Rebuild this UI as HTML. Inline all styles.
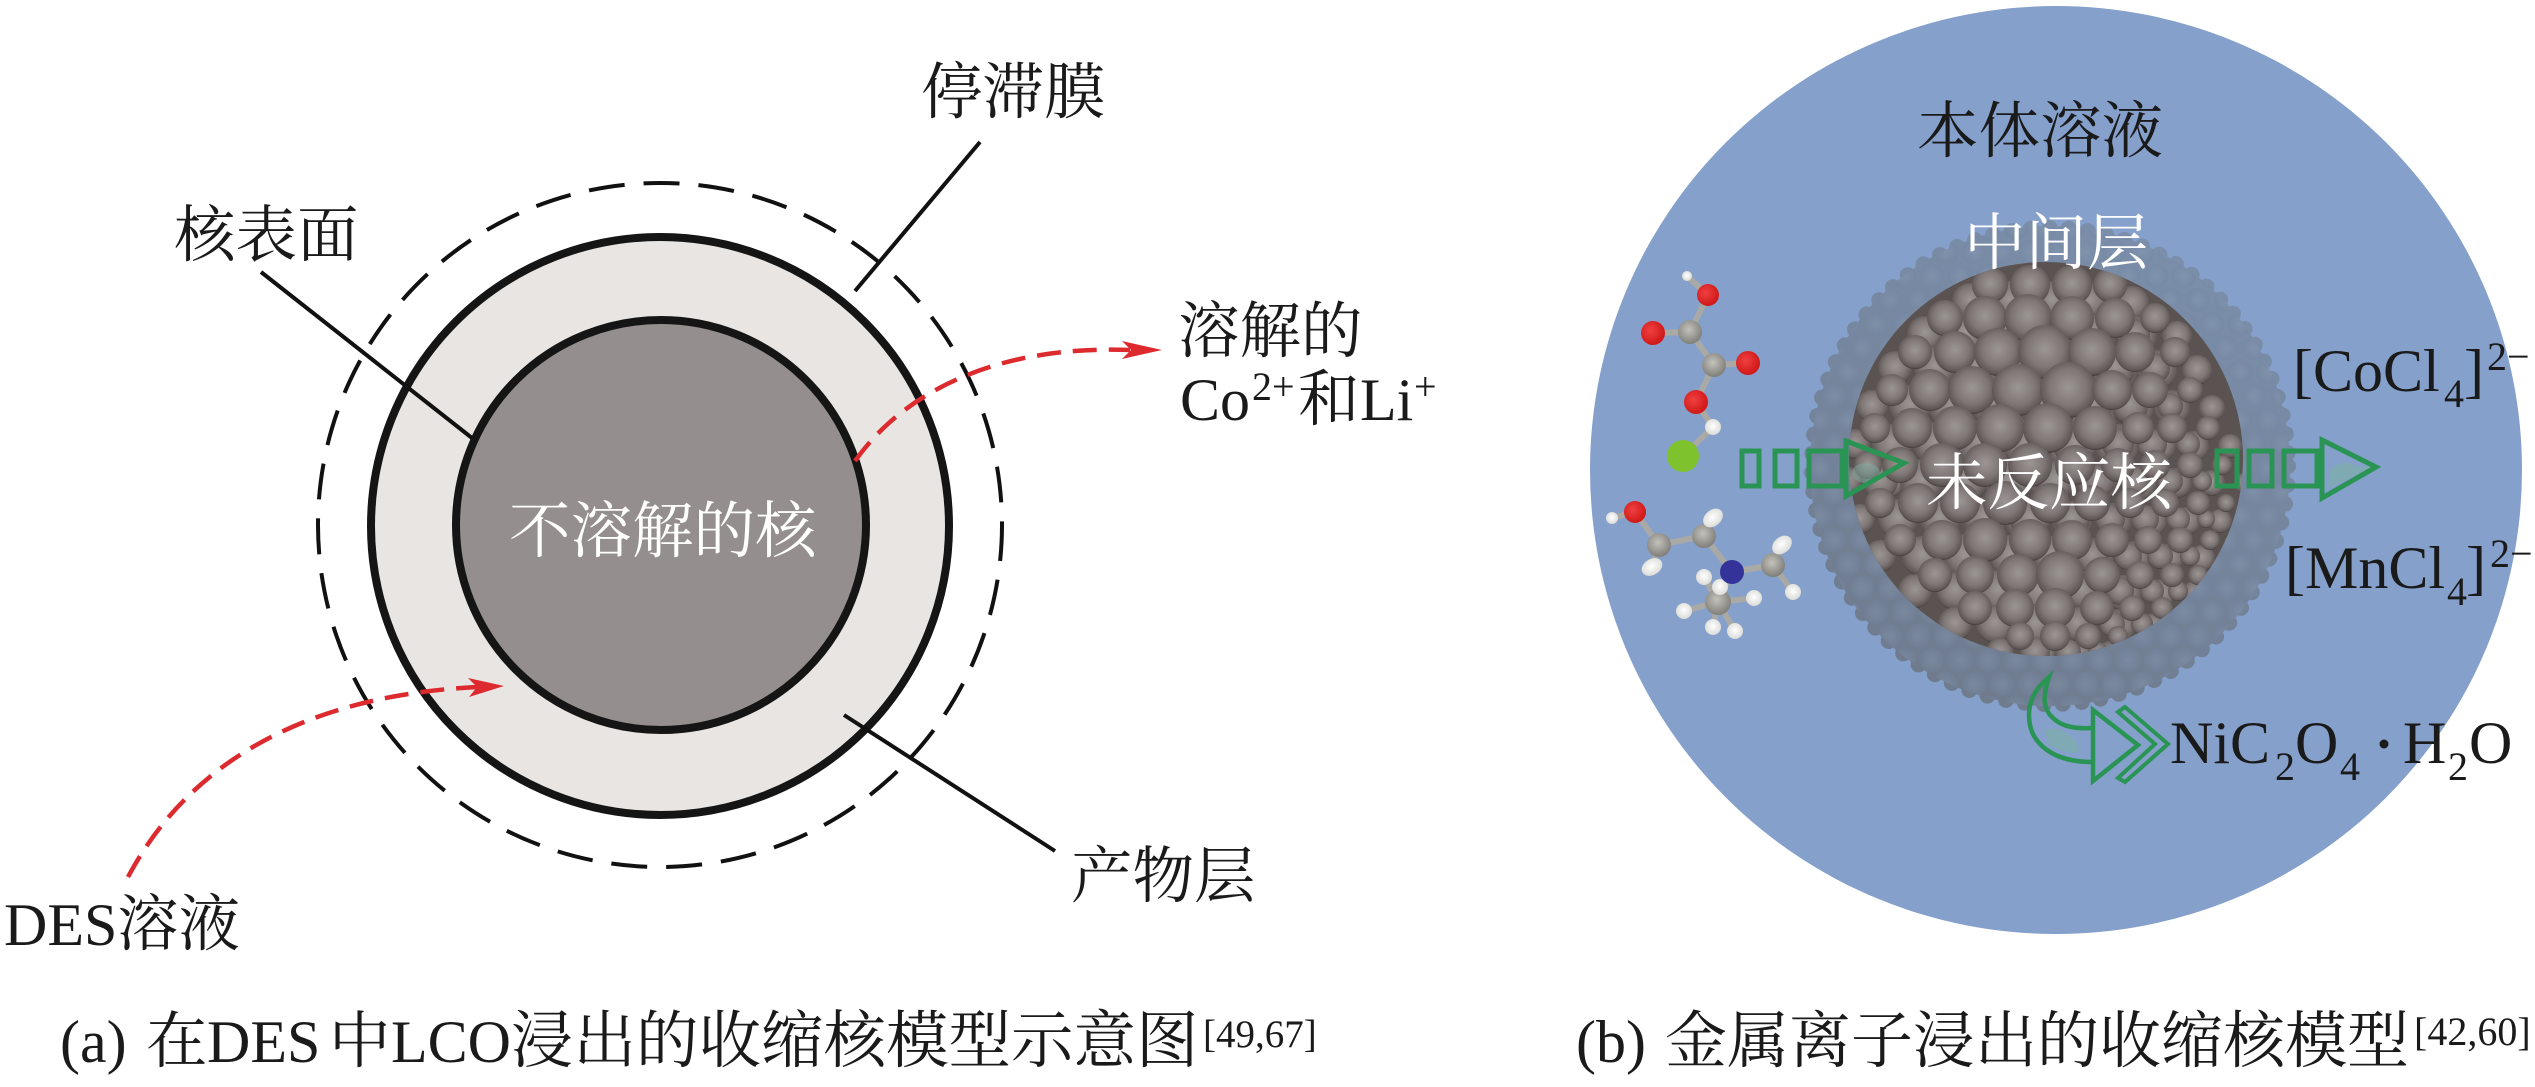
<!DOCTYPE html>
<html lang="zh"><head><meta charset="utf-8"><title>Shrinking core models</title>
<style>html,body{margin:0;padding:0;background:#fff}svg{display:block}
text{font-family:"Liberation Serif","Noto Serif CJK SC",serif;font-size:61.5px;fill:#1a1a1a}
.w{fill:#fff}.sup{font-size:40px}.s{font-size:40px}.l{font-size:60px}</style></head><body>
<svg xmlns="http://www.w3.org/2000/svg" width="2535" height="1087" viewBox="0 0 2535 1087">
<defs>
<radialGradient id="ball" cx=".5" cy=".45" r=".55"><stop offset="0" stop-color="#9b9694"/><stop offset=".6" stop-color="#7f7775"/><stop offset=".92" stop-color="#5f5755"/><stop offset="1" stop-color="#3f3836"/></radialGradient>
<radialGradient id="gb" cx=".5" cy=".5" r=".5"><stop offset="0" stop-color="#8c9eb6"/><stop offset="1" stop-color="#7283a0"/></radialGradient>
<linearGradient id="lay" x1=".7" y1="0" x2=".3" y2="1"><stop offset="0" stop-color="#7b8fab"/><stop offset="1" stop-color="#6f7b8d"/></linearGradient>
<pattern id="lp" width="28" height="48" patternUnits="userSpaceOnUse"><circle cx="14" cy="12" r="12" fill="url(#gb)" opacity=".35"/><circle cx="0" cy="36" r="12" fill="url(#gb)" opacity=".35"/><circle cx="28" cy="36" r="12" fill="url(#gb)" opacity=".35"/></pattern>
<clipPath id="core"><circle cx="2046" cy="459" r="197"/></clipPath>
<radialGradient id="rd" cx=".4" cy=".4" r=".6"><stop offset="0" stop-color="#f04040"/><stop offset="1" stop-color="#d01818"/></radialGradient>
<radialGradient id="gy" cx=".45" cy=".4" r=".6"><stop offset="0" stop-color="#c4c2bc"/><stop offset="1" stop-color="#807e78"/></radialGradient>
<radialGradient id="wh" cx=".5" cy=".45" r=".6"><stop offset="0" stop-color="#ffffff"/><stop offset="1" stop-color="#d8d8d4"/></radialGradient>
<g id="balls" fill="url(#ball)">
<circle cx="1990" cy="285" r="18"/><circle cx="2030" cy="285" r="20"/><circle cx="2072" cy="285" r="20"/><circle cx="2110" cy="285" r="17"/>
<circle cx="1945" cy="318" r="18"/><circle cx="1985" cy="318" r="22"/><circle cx="2028" cy="318" r="24"/><circle cx="2072" cy="318" r="22"/><circle cx="2115" cy="318" r="20"/><circle cx="2155" cy="318" r="15"/>
<circle cx="1915" cy="352" r="17"/><circle cx="1955" cy="352" r="21"/><circle cx="1998" cy="352" r="24"/><circle cx="2045" cy="352" r="27"/><circle cx="2092" cy="352" r="24"/><circle cx="2135" cy="352" r="20"/><circle cx="2175" cy="352" r="15"/>
<circle cx="1892" cy="390" r="16"/><circle cx="1930" cy="390" r="21"/><circle cx="1972" cy="390" r="24"/><circle cx="2018" cy="390" r="26"/><circle cx="2068" cy="390" r="28"/><circle cx="2112" cy="390" r="20"/><circle cx="2150" cy="390" r="18"/><circle cx="2190" cy="390" r="13"/>
<circle cx="1875" cy="428" r="15"/><circle cx="1912" cy="428" r="20"/><circle cx="1955" cy="428" r="22"/><circle cx="2000" cy="428" r="24"/><circle cx="2048" cy="428" r="25"/><circle cx="2095" cy="428" r="22"/><circle cx="2138" cy="428" r="16"/><circle cx="2172" cy="428" r="15"/><circle cx="2208" cy="428" r="12"/>
<circle cx="1868" cy="465" r="14"/><circle cx="1900" cy="465" r="18"/><circle cx="1942" cy="465" r="22"/><circle cx="1985" cy="465" r="22"/><circle cx="2030" cy="465" r="22"/><circle cx="2075" cy="465" r="20"/><circle cx="2118" cy="465" r="17"/><circle cx="2155" cy="465" r="15"/><circle cx="2190" cy="465" r="13"/><circle cx="2222" cy="465" r="10"/>
<circle cx="1880" cy="503" r="15"/><circle cx="1918" cy="503" r="20"/><circle cx="1960" cy="503" r="20"/><circle cx="2005" cy="503" r="22"/><circle cx="2050" cy="503" r="20"/><circle cx="2092" cy="503" r="18"/><circle cx="2130" cy="503" r="15"/><circle cx="2165" cy="503" r="14"/><circle cx="2198" cy="503" r="12"/><circle cx="2226" cy="503" r="9"/>
<circle cx="1900" cy="540" r="16"/><circle cx="1942" cy="540" r="20"/><circle cx="1985" cy="540" r="22"/><circle cx="2030" cy="540" r="21"/><circle cx="2072" cy="540" r="20"/><circle cx="2112" cy="540" r="17"/><circle cx="2148" cy="540" r="14"/><circle cx="2180" cy="540" r="13"/><circle cx="2210" cy="540" r="10"/>
<circle cx="1935" cy="575" r="17"/><circle cx="1975" cy="575" r="19"/><circle cx="2018" cy="575" r="21"/><circle cx="2060" cy="575" r="24"/><circle cx="2102" cy="575" r="18"/><circle cx="2140" cy="575" r="14"/><circle cx="2172" cy="575" r="12"/><circle cx="2198" cy="575" r="10"/>
<circle cx="1975" cy="608" r="17"/><circle cx="2015" cy="608" r="19"/><circle cx="2055" cy="608" r="20"/><circle cx="2097" cy="608" r="17"/><circle cx="2132" cy="608" r="13"/><circle cx="2162" cy="608" r="11"/>
<circle cx="2020" cy="636" r="14"/><circle cx="2055" cy="636" r="15"/><circle cx="2088" cy="636" r="13"/><circle cx="2118" cy="636" r="10"/>
</g>
</defs>
<rect width="2535" height="1087" fill="#fff"/>

<!-- Panel a -->
<circle cx="660" cy="525" r="342" fill="none" stroke="#111" stroke-width="4" stroke-dasharray="36 19"/>
<circle cx="660" cy="526" r="289" fill="#e8e5e2" stroke="#151515" stroke-width="8"/>
<circle cx="661" cy="525" r="205" fill="#958e8e" stroke="#151515" stroke-width="8"/>
<g stroke="#111" stroke-width="4" fill="none">
<line x1="980" y1="142" x2="855" y2="291"/>
<line x1="261" y1="272" x2="472" y2="438"/>
<line x1="844" y1="715" x2="1055" y2="851"/>
</g>
<g fill="none" stroke="#dc2a2f" stroke-width="4.5" stroke-dasharray="24 12">
<path d="M855 461C905 390 1000 345 1130 350"/>
<path d="M128 877C190 760 310 695 478 687"/>
</g>
<polygon points="1162,350 1122,341 1131,350 1122,359" fill="#dc2a2f"/>
<polygon points="504,686 468,678 477,687 469,697" fill="#dc2a2f"/>
<text x="921" y="113">停滞膜</text>
<text x="174" y="256">核表面</text>
<text x="1071" y="897">产物层</text>
<text x="509" y="552" class="w">不溶解的核</text>
<text x="4" y="945" class="l">DES</text><text x="117" y="945">溶液</text>
<text x="1178" y="352">溶解的</text>
<text x="1180" y="420" class="l">Co</text><text x="1252" y="400" class="s">2+</text><text x="1298" y="420">和</text><text x="1360" y="420" class="l">Li</text><text x="1414" y="400" class="s">+</text>
<text x="60" y="1062" class="l">(a)</text><text x="146" y="1062">在</text><text x="207" y="1062" class="l">DES</text><text x="329" y="1062">中</text><text x="391" y="1062" class="l">LCO</text><text x="511" y="1062" style="font-size:62.5px">浸出的收缩核模型示意图</text>
<text x="1203" y="1047" class="sup" style="font-size:39px">[49,67]</text>

<!-- Panel b -->
<ellipse cx="2056" cy="470" rx="466" ry="464" fill="#85a0cb"/>
<circle cx="2050" cy="466" r="240" fill="url(#lay)"/>
<circle cx="2050" cy="466" r="238" fill="none" stroke="url(#lay)" stroke-width="16" stroke-dasharray="0 19" stroke-linecap="round"/>
<circle cx="2050" cy="466" r="240" fill="url(#lp)"/>
<circle cx="2046" cy="459" r="197" fill="#5a5351"/>
<g clip-path="url(#core)">
<use href="#balls" transform="translate(22 18)"/>
<use href="#balls" transform="translate(-20 16)"/>
<use href="#balls"/>
</g>

<!-- molecules -->
<g stroke="#a9a9a6" stroke-width="6" fill="none">
<path d="M1687 276L1708 295L1690 332L1653 333M1690 332L1714 365L1748 363M1714 365L1696 402L1713 427L1683 456"/>
<path d="M1612 518L1635 512L1659 545L1652 567M1659 545L1704 536L1713 518M1704 536L1732 572L1773 565L1782 545M1773 565L1793 592M1732 572L1718 602L1704 577M1718 602L1720 587M1718 602L1754 598M1718 602L1684 611M1718 602L1713 627M1718 602L1735 631"/>
</g>
<g fill="url(#rd)"><circle cx="1708" cy="295" r="11"/><circle cx="1653" cy="333" r="12"/><circle cx="1748" cy="363" r="12"/><circle cx="1696" cy="402" r="12"/><circle cx="1635" cy="512" r="11"/></g>
<g fill="url(#gy)"><circle cx="1690" cy="332" r="12"/><circle cx="1714" cy="365" r="12"/><circle cx="1659" cy="545" r="12"/><circle cx="1704" cy="536" r="12"/><circle cx="1773" cy="565" r="12"/><circle cx="1718" cy="602" r="13"/></g>
<g fill="url(#wh)"><circle cx="1687" cy="276" r="5"/><circle cx="1713" cy="427" r="8"/><circle cx="1612" cy="518" r="6"/><ellipse cx="1652" cy="567" rx="11" ry="8" transform="rotate(-30 1652 567)"/><ellipse cx="1713" cy="518" rx="11" ry="8" transform="rotate(-40 1713 518)"/><ellipse cx="1782" cy="545" rx="11" ry="8" transform="rotate(-40 1782 545)"/><circle cx="1793" cy="592" r="8"/><circle cx="1704" cy="577" r="8"/><circle cx="1720" cy="587" r="8"/><circle cx="1754" cy="598" r="8"/><circle cx="1684" cy="611" r="8"/><circle cx="1713" cy="627" r="8"/><circle cx="1735" cy="631" r="8"/></g>
<circle cx="1683" cy="456" r="16" fill="#7ec22e"/>
<circle cx="1732" cy="572" r="12" fill="#33339a"/>

<!-- green arrows -->
<ellipse cx="1866" cy="473" rx="14" ry="10" fill="#7fa9a0" opacity=".5"/>
<g fill="none" stroke="#2a9454" stroke-width="5" stroke-linejoin="miter">
<rect x="1742" y="451" width="17" height="35"/><rect x="1775" y="451" width="22" height="35"/><rect x="1809" y="451" width="33" height="35"/>
<polygon points="1846,441 1904,463 1846,496"/>
<rect x="2217" y="451" width="20" height="35"/><rect x="2249" y="451" width="23" height="35"/><rect x="2284" y="451" width="33" height="35"/>
<path d="M2328 488L2330 470Q2342 458 2356 466L2372 467Z" fill="#7fa9b3" stroke="none"/>
<polygon points="2322,440 2376,467 2322,498"/>
<path d="M2092 762C2055 762 2028 745 2029 713C2030 695 2040 685 2049 677C2043 695 2042 708 2053 718C2062 727 2076 729 2092 728" stroke-width="4.5"/>
<path d="M2044 730Q2060 725 2075 740Q2080 750 2078 753Q2060 752 2050 745Z" fill="#7fa9b3" stroke="none"/>
<polygon points="2093,710 2138,745 2093,781" stroke-width="4.5"/>
<polygon points="2118,712 2125,707 2168,744 2125,782 2118,778 2155,744" stroke-width="4"/>
</g>

<text x="1917" y="152">本体溶液</text>
<text x="1964" y="264" class="w">中间层</text>
<text x="1926" y="504" class="w">未反应核</text>
<text x="2293" y="391" class="l">[CoCl</text><text x="2444" y="407" class="s">4</text><text x="2464" y="391" class="l">]</text><text x="2487" y="370" class="s">2</text><text x="2507" y="370" class="s">−</text>
<text x="2285" y="588" class="l">[MnCl</text><text x="2447" y="605" class="s">4</text><text x="2466" y="588" class="l">]</text><text x="2490" y="567" class="s">2</text><text x="2510" y="567" class="s">−</text>
<text x="2170" y="763" class="l">NiC</text><text x="2275" y="780" class="s">2</text><text x="2295" y="763" class="l">O</text><text x="2340" y="780" class="s">4</text>
<circle cx="2384" cy="744" r="4.5" fill="#1a1a1a"/>
<text x="2403" y="763" class="l">H</text><text x="2448" y="780" class="s">2</text><text x="2469" y="763" class="l">O</text>
<text x="1576" y="1062" class="l">(b)</text><text x="1665" y="1062" style="font-size:62px">金属离子浸出的收缩核模型</text>
<text x="2414" y="1045" class="sup">[42,60]</text>
</svg>
</body></html>
